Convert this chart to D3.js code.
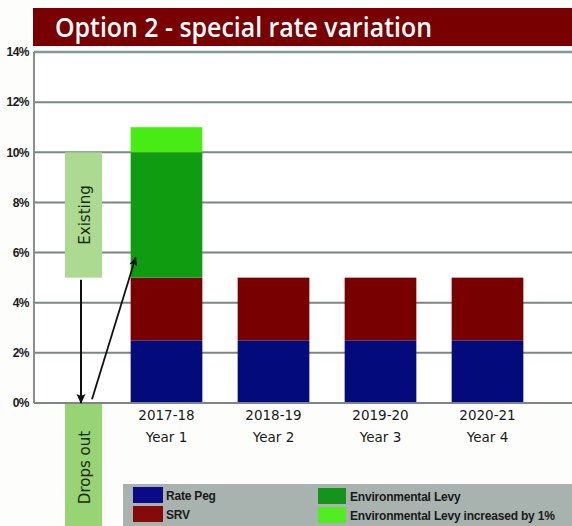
<!DOCTYPE html>
<html>
<head>
<meta charset="utf-8">
<script src="https://cdn.jsdelivr.net/npm/d3@7"></script>
<style>
  html, body { margin: 0; padding: 0; background: #fdfdfb; }
  svg { display: block; }
</style>
</head>
<body>
<script>
// Rate components per financial year (percent)
const years = ["2017-18", "2018-19", "2019-20", "2020-21"];
const yearLabels = ["Year 1", "Year 2", "Year 3", "Year 4"];
const ratePeg = [2.5, 2.5, 2.5, 2.5];
const srv = [2.5, 2.5, 2.5, 2.5];
const envLevy = [5, 0, 0, 0];
const envLevyIncrease = [1, 0, 0, 0];
const yTicks = [0, 2, 4, 6, 8, 10, 12, 14];
const yTickLabels = ["0%", "2%", "4%", "6%", "8%", "10%", "12%", "14%"];
// The existing environmental levy band (percent), shown beside the axis
const existingBand = [5, 10];

const seriesKeys = ["ratePeg", "srv", "envLevy", "envLevyIncrease"];
const seriesNames = ["Rate Peg", "SRV", "Environmental Levy", "Environmental Levy increased by 1%"];
const seriesColors = ["#030b7c", "#780000", "#109c10", "#47ec14"];
const legendColors = ["#0b0a86", "#860a0a", "#14941a", "#52ec22"];

const W = 572, H = 526;
const svg = d3.select("body").append("svg").attr("width", W).attr("height", H);

// Title banner
svg.append("rect").attr("x", 33).attr("y", 8).attr("width", W - 33).attr("height", 38).attr("fill", "#780000");
svg.append("text").attr("x", 55).attr("y", 37)
  .attr("font-family", "Open Sans, DejaVu Sans, sans-serif").attr("font-size", 27).attr("font-weight", 600)
  .attr("fill", "#ffffff").attr("textLength", 377).attr("lengthAdjust", "spacingAndGlyphs")
  .text("Option 2 - special rate variation");

const plotLeft = 34, plotRight = W, plotTop = 52, plotBottom = 403;
const y = d3.scaleLinear().domain([0, 14]).range([plotBottom, plotTop]);
const x = d3.scaleBand().domain(years).range([113, 541]).paddingInner(0.33).paddingOuter(0.165);

// Plot background
svg.append("rect").attr("x", plotLeft).attr("y", plotTop).attr("width", plotRight - plotLeft)
  .attr("height", plotBottom - plotTop).attr("fill", "#ffffff");

// Gridlines
svg.append("g").selectAll("line").data(yTicks.filter(d => d > 0)).join("line")
  .attr("x1", plotLeft).attr("x2", plotRight)
  .attr("y1", d => y(d)).attr("y2", d => y(d))
  .attr("stroke", d => d === 14 ? "#80999a" : "#7d8684").attr("stroke-width", d => d === 14 ? 2.5 : 2);

// Y axis
const yAxis = d3.axisLeft(y).tickValues(yTicks).tickFormat((d, i) => yTickLabels[i]).tickSize(0).tickPadding(5);
const yg = svg.append("g").attr("transform", `translate(${plotLeft},0)`).call(yAxis);
yg.select(".domain").remove();
yg.selectAll("text").attr("font-family", "Liberation Sans Narrow, Liberation Sans, sans-serif")
  .attr("font-size", 12).attr("font-weight", "bold").attr("fill", "#1a1a1a").attr("letter-spacing", -0.5);
svg.append("line").attr("x1", plotLeft).attr("x2", plotLeft).attr("y1", plotTop).attr("y2", plotBottom)
  .attr("stroke", "#8a8f8d").attr("stroke-width", 2);

// Existing levy box and "drops out" box
const boxX = 65, boxW = 37;
svg.append("rect").attr("x", boxX).attr("y", y(existingBand[1])).attr("width", boxW)
  .attr("height", y(existingBand[0]) - y(existingBand[1])).attr("fill", "#acda90");
svg.append("rect").attr("x", boxX).attr("y", y(0)).attr("width", boxW)
  .attr("height", H - y(0)).attr("fill", "#98d473");

// Stacked bars
const rows = years.map((yr, i) => ({
  year: yr, ratePeg: ratePeg[i], srv: srv[i], envLevy: envLevy[i], envLevyIncrease: envLevyIncrease[i]
}));
const stack = d3.stack().keys(seriesKeys)(rows);
svg.append("g").selectAll("g").data(stack).join("g")
  .attr("fill", (d, i) => seriesColors[i])
  .selectAll("rect").data(d => d.filter(s => s[1] - s[0] > 0)).join("rect")
  .attr("x", d => x(d.data.year)).attr("width", x.bandwidth())
  .attr("y", d => y(d[1])).attr("height", d => y(d[0]) - y(d[1]));

// X axis baseline
svg.append("line").attr("x1", plotLeft).attr("x2", plotRight).attr("y1", plotBottom).attr("y2", plotBottom)
  .attr("stroke", "#7d8684").attr("stroke-width", 2);

// Category labels
const xl = svg.append("g").selectAll("text").data(years).join("text")
  .attr("x", d => x(d) + x.bandwidth() / 2).attr("text-anchor", "middle")
  .attr("font-family", "DejaVu Sans, sans-serif").attr("font-size", 13.5).attr("fill", "#1a1a1a");
xl.append("tspan").attr("x", d => x(d) + x.bandwidth() / 2).attr("y", 420).text(d => d);
xl.append("tspan").attr("x", d => x(d) + x.bandwidth() / 2).attr("y", 442).text((d, i) => yearLabels[i]);

// Box captions
svg.append("text").attr("transform", `translate(${boxX + boxW / 2 + 6},${(y(existingBand[0]) + y(existingBand[1])) / 2}) rotate(-90)`)
  .attr("text-anchor", "middle").attr("font-family", "DejaVu Sans, sans-serif").attr("font-size", 15)
  .attr("fill", "#1a2a10").text("Existing");
svg.append("text").attr("transform", `translate(${boxX + boxW / 2 + 6},${(y(0) + H) / 2 + 3}) rotate(-90)`)
  .attr("text-anchor", "middle").attr("font-family", "DejaVu Sans, sans-serif").attr("font-size", 15)
  .attr("fill", "#1a2a10").text("Drops out");

// Arrows
const defs = svg.append("defs");
defs.append("marker").attr("id", "ah").attr("viewBox", "0 0 10 10").attr("refX", 9).attr("refY", 5)
  .attr("markerWidth", 6).attr("markerHeight", 5).attr("orient", "auto").attr("markerUnits", "strokeWidth")
  .append("path").attr("d", "M0,0.5 L10,5 L0,9.5 L2,5 Z").attr("fill", "#111");
svg.append("line").attr("x1", 81).attr("y1", y(existingBand[0]) + 2).attr("x2", 81).attr("y2", y(0))
  .attr("stroke", "#111").attr("stroke-width", 2).attr("marker-end", "url(#ah)");
svg.append("line").attr("x1", 92).attr("y1", y(0.15)).attr("x2", x(years[0]) + 5).attr("y2", y(5.8))
  .attr("stroke", "#111").attr("stroke-width", 1.8).attr("marker-end", "url(#ah)");

// Legend
svg.append("rect").attr("x", 123).attr("y", 484).attr("width", W - 123).attr("height", H - 484).attr("fill", "#a8b2af");
const legendPos = [[133, 487], [133, 506], [318, 488], [318, 507]];
const lg = svg.append("g").selectAll("g").data(seriesNames).join("g")
  .attr("transform", (d, i) => `translate(${legendPos[i][0]},${legendPos[i][1]})`);
lg.append("rect").attr("width", (d, i) => i < 2 ? 30 : 28).attr("height", 16).attr("fill", (d, i) => legendColors[i]);
lg.append("text").attr("x", (d, i) => i < 2 ? 33 : 32).attr("y", 12.5)
  .attr("font-family", "Liberation Sans Narrow, Liberation Sans, sans-serif").attr("font-size", 12)
  .attr("font-weight", "bold").attr("fill", "#1a1a1a").attr("letter-spacing", -0.2).text(d => d);
</script>
</body>
</html>
